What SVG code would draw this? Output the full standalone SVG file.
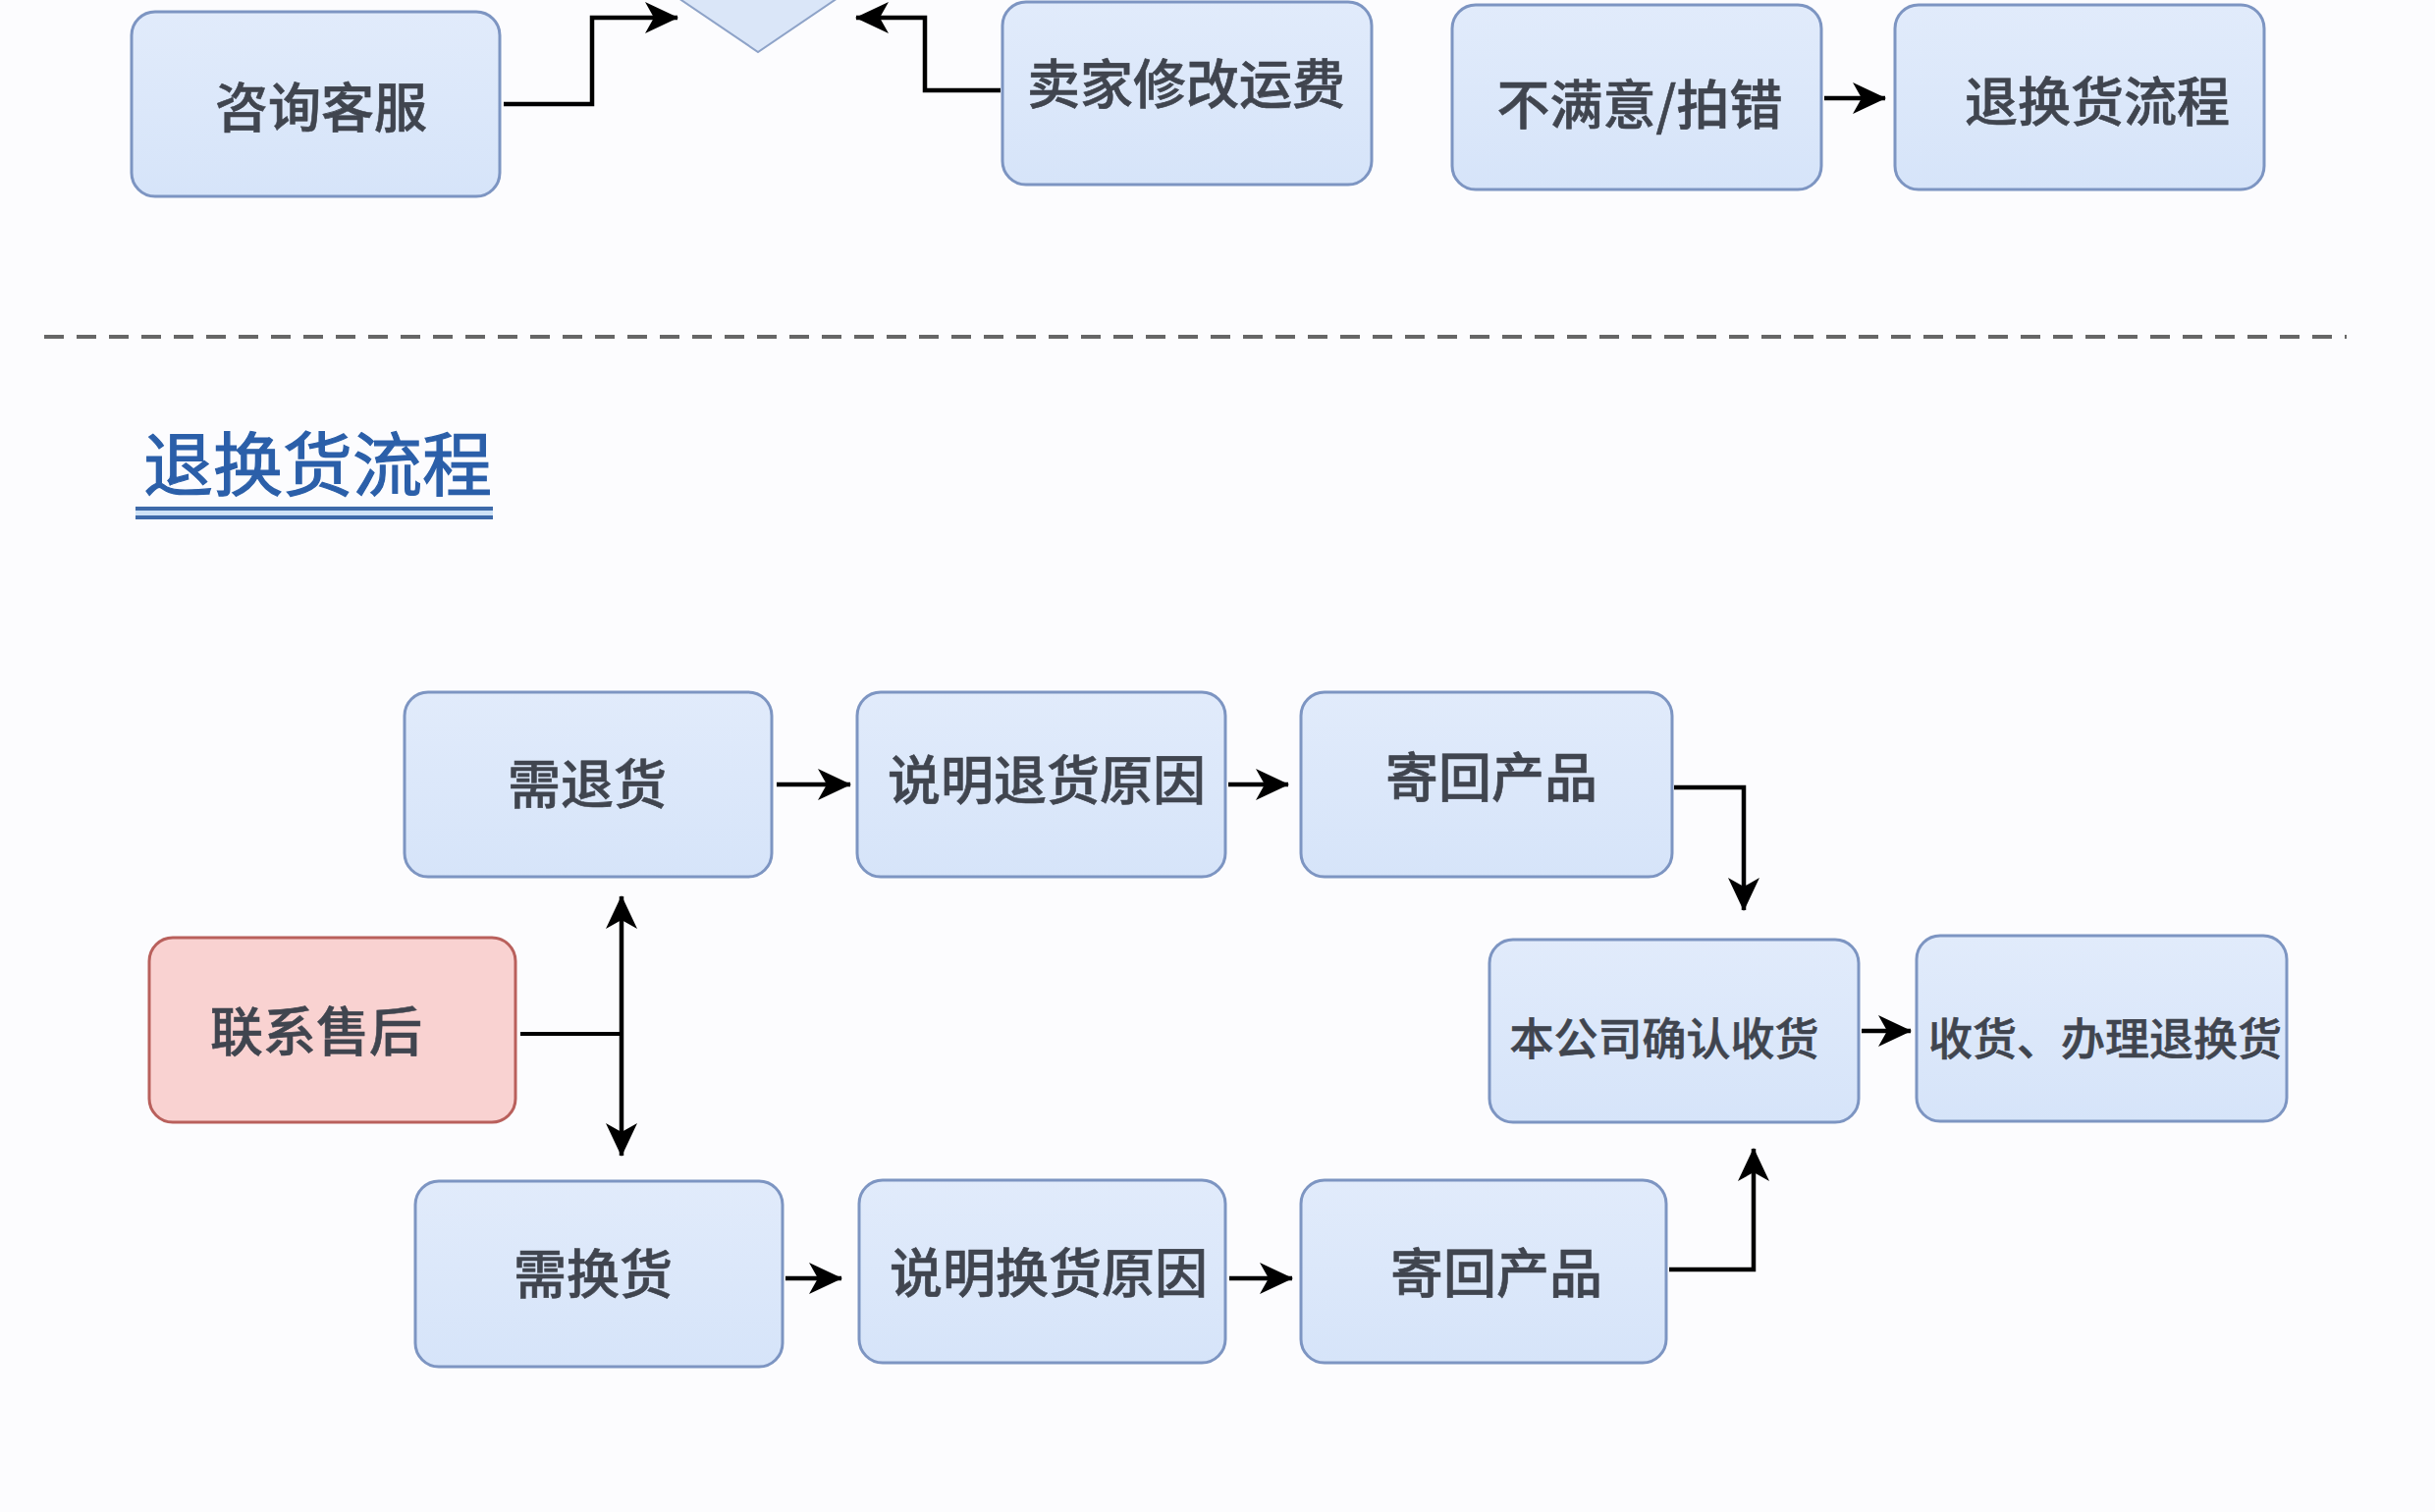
<svg xmlns="http://www.w3.org/2000/svg" width="2480" height="1540" viewBox="0 0 2480 1540">
<defs>
<linearGradient id="gb" x1="0" y1="0" x2="0" y2="1">
<stop offset="0" stop-color="#e1ebfb"/>
<stop offset="1" stop-color="#d6e4f9"/>
</linearGradient>
<marker id="arr" markerUnits="userSpaceOnUse" markerWidth="34" markerHeight="32" viewBox="0 0 34 32" refX="33" refY="16" orient="auto-start-reverse">
<path d="M0,0 L34,16 L0,32 L9,16 Z" fill="#000"/>
</marker>
</defs>
<style>
.box{fill:url(#gb);stroke:#7d95c2;stroke-width:3}
.red{fill:#f9d2d1;stroke:#b9605c;stroke-width:3}
.t{font-family:"Noto Sans CJK SC","Noto Sans",sans-serif;font-size:54px;fill:#40454f;stroke:#40454f;stroke-width:0.6;text-anchor:middle;dominant-baseline:central;font-weight:500}
.ts{font-size:45px}
.c{fill:none;stroke:#000;stroke-width:4.5;marker-end:url(#arr)}
</style>
<rect width="2480" height="1540" fill="#fcfcfe"/>

<g id="top-zixun"><rect class="box" x="134" y="12" width="375" height="188" rx="24"/><text class="t" x="327" y="106">咨询客服</text></g>
<g id="top-diamond"><polygon points="772,-187 949,-67 772,53 595,-67" fill="#dae6f8" stroke="#8ea3c8" stroke-width="2"/></g>
<g id="top-maijia"><rect class="box" x="1021" y="2" width="376" height="186" rx="24"/><text class="t" x="1208" y="82">卖家修改运费</text></g>
<g id="top-bumanyi"><rect class="box" x="1479" y="5" width="376" height="188" rx="24"/><text class="t" x="1670" y="103">不满意/拍错</text></g>
<g id="top-tuihuan"><rect class="box" x="1930" y="5" width="376" height="188" rx="24"/><text class="t" x="2136" y="100">退换货流程</text></g>

<line x1="45" y1="343" x2="2390" y2="343" stroke="#666" stroke-width="4" stroke-dasharray="20 13"/>

<g id="title">
<text x="146" y="468" style="font-family:'Noto Sans CJK SC','Noto Sans',sans-serif;font-size:71px;fill:#2b5fa9;stroke:#2b5fa9;stroke-width:1.2;dominant-baseline:central">退换货流程</text>
<rect x="138" y="516" width="364" height="4" fill="#3e6aa9"/>
<rect x="138" y="520" width="364" height="5" fill="#cfe3f7"/>
<rect x="138" y="525" width="364" height="4" fill="#3e6aa9"/>
</g>

<g id="n-xutuihuo"><rect class="box" x="412" y="705" width="374" height="188" rx="24"/><text class="t" x="598" y="795">需退货</text></g>
<g id="n-shuomingtui"><rect class="box" x="873" y="705" width="375" height="188" rx="24"/><text class="t" x="1066" y="791">说明退货原因</text></g>
<g id="n-jihui1"><rect class="box" x="1325" y="705" width="378" height="188" rx="24"/><text class="t" x="1519" y="788">寄回产品</text></g>
<g id="n-lianxi"><rect class="red" x="152" y="955" width="373" height="188" rx="24"/><text class="t" x="322" y="1047">联系售后</text></g>
<g id="n-queren"><rect class="box" x="1517" y="957" width="376" height="186" rx="24"/><text class="t ts" x="1695" y="1055">本公司确认收货</text></g>
<g id="n-banli"><rect class="box" x="1952" y="953" width="377" height="189" rx="24"/><text class="t ts" x="2144" y="1055">收货、办理退换货</text></g>
<g id="n-xuhuanhuo"><rect class="box" x="423" y="1203" width="374" height="189" rx="24"/><text class="t" x="604" y="1294">需换货</text></g>
<g id="n-shuominghuan"><rect class="box" x="875" y="1202" width="373" height="186" rx="24"/><text class="t" x="1068" y="1293">说明换货原因</text></g>
<g id="n-jihui2"><rect class="box" x="1325" y="1202" width="372" height="186" rx="24"/><text class="t" x="1524" y="1293">寄回产品</text></g>

<g id="connectors">
<polyline class="c" points="513,106 603,106 603,18 690,18"/>
<polyline class="c" points="1019,92 942,92 942,18 872,18"/>
<line class="c" x1="1858" y1="100" x2="1920" y2="100"/>
<polyline fill="none" stroke="#000" stroke-width="4" points="530,1053 633,1053"/>
<line class="c" x1="633" y1="913" x2="633" y2="1177" style="marker-start:url(#arr)"/>
<line class="c" x1="791" y1="799" x2="866" y2="799"/>
<line class="c" x1="1251" y1="799" x2="1312" y2="799"/>
<polyline class="c" points="1705,802 1776,802 1776,927"/>
<line class="c" x1="1896" y1="1050" x2="1946" y2="1050"/>
<line class="c" x1="800" y1="1302" x2="857" y2="1302"/>
<line class="c" x1="1252" y1="1302" x2="1316" y2="1302"/>
<polyline class="c" points="1700,1293 1786,1293 1786,1170"/>
</g>
</svg>
